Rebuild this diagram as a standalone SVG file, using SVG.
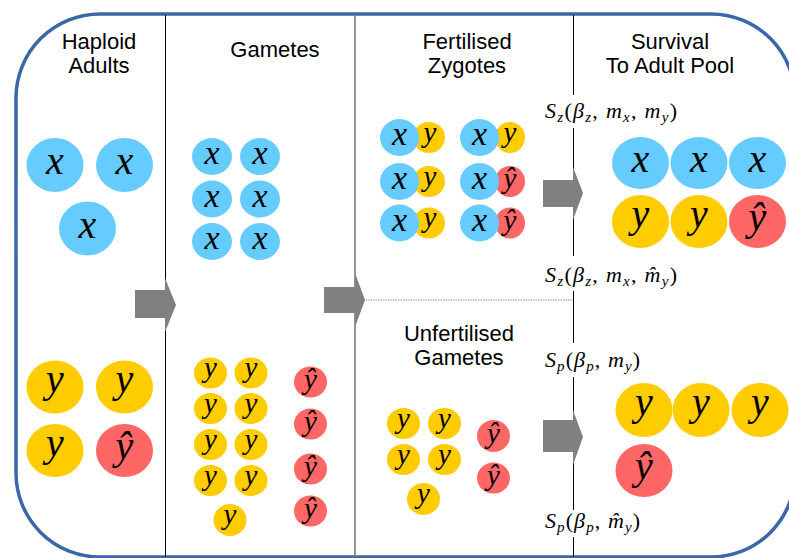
<svg xmlns="http://www.w3.org/2000/svg" width="789" height="558" viewBox="0 0 789 558">
<style>
.hd{font-family:"Liberation Sans",Arial,sans-serif;font-size:22px;fill:#000;text-anchor:middle}
.m{font-family:"Liberation Serif","Times New Roman",serif;font-style:italic;fill:#000;text-anchor:middle}
.L{font-size:40px}
.S{font-size:34px}
.T{font-size:29px}
.bx{fill:#66ccff}
.by{fill:#ffcc00}
.br{fill:#ff6666}
.lab{font-family:"Liberation Serif","Times New Roman",serif;font-size:22px;fill:#000}
.it{font-style:italic}
.sub{font-size:15px;font-style:italic}
.arr{fill:#808080}
</style>
<rect width="789" height="558" fill="#fff"/>
<rect x="16" y="14" width="779" height="543" rx="84" ry="84" fill="none" stroke="#3a67a8" stroke-width="3.5"/>

<g id="connectors">
<line x1="165.5" y1="15" x2="165.5" y2="557" stroke="#000" stroke-width="1"/>
<line x1="355" y1="15" x2="355" y2="557" stroke="#777" stroke-width="1.6"/>
<path d="M573.5 15V95M573.5 128V256M573.5 291V343M573.5 377V510M573.5 537V557" stroke="#000" stroke-width="1" fill="none"/>
<line x1="363" y1="300" x2="573" y2="300" stroke="#888" stroke-width="1" stroke-dasharray="1.5 1"/>
<polygon class="arr" points="135,290 165,290 165,278 176,305 165,332 165,318 135,318"/>
<polygon class="arr" points="324,287 355,287 355,273 365,300 355,327 355,313 324,313"/>
<polygon class="arr" points="543,180 573,180 573,167 583,193 573,220 573,207 543,207"/>
<polygon class="arr" points="543,420 573,420 573,410 583,437 573,465 573,452 543,452"/>
</g>

<g id="headers">
<text class="hd" x="99" y="49">Haploid</text>
<text class="hd" x="99" y="73">Adults</text>
<text class="hd" x="275" y="57">Gametes</text>
<text class="hd" x="467" y="49">Fertilised</text>
<text class="hd" x="467" y="73">Zygotes</text>
<text class="hd" x="670" y="49">Survival</text>
<text class="hd" x="670" y="73">To Adult Pool</text>
<text class="hd" x="459" y="341">Unfertilised</text>
<text class="hd" x="459" y="365">Gametes</text>
</g>

<g id="labels">
<text class="lab" x="545" y="117.5" textLength="132" lengthAdjust="spacing"><tspan class="it">S</tspan><tspan class="sub" dy="4">z</tspan><tspan dy="-4">(</tspan><tspan class="it">β</tspan><tspan class="sub" dy="4">z</tspan><tspan dy="-4">, </tspan><tspan class="it">m</tspan><tspan class="sub" dy="4">x</tspan><tspan dy="-4">, </tspan><tspan class="it">m</tspan><tspan class="sub" dy="4">y</tspan><tspan dy="-4">)</tspan></text>
<text class="lab" x="545" y="282" textLength="132" lengthAdjust="spacing"><tspan class="it">S</tspan><tspan class="sub" dy="4">z</tspan><tspan dy="-4">(</tspan><tspan class="it">β</tspan><tspan class="sub" dy="4">z</tspan><tspan dy="-4">, </tspan><tspan class="it">m</tspan><tspan class="sub" dy="4">x</tspan><tspan dy="-4">, </tspan><tspan class="it">m̂</tspan><tspan class="sub" dy="4">y</tspan><tspan dy="-4">)</tspan></text>
<text class="lab" x="545" y="367" textLength="95" lengthAdjust="spacing"><tspan class="it">S</tspan><tspan class="sub" dy="4">p</tspan><tspan dy="-4">(</tspan><tspan class="it">β</tspan><tspan class="sub" dy="4">p</tspan><tspan dy="-4">, </tspan><tspan class="it">m</tspan><tspan class="sub" dy="4">y</tspan><tspan dy="-4">)</tspan></text>
<text class="lab" x="545" y="528" textLength="95" lengthAdjust="spacing"><tspan class="it">S</tspan><tspan class="sub" dy="4">p</tspan><tspan dy="-4">(</tspan><tspan class="it">β</tspan><tspan class="sub" dy="4">p</tspan><tspan dy="-4">, </tspan><tspan class="it">m̂</tspan><tspan class="sub" dy="4">y</tspan><tspan dy="-4">)</tspan></text>
</g>

<g id="adults">
<g id="a1"><ellipse class="bx" cx="55" cy="165" rx="28.5" ry="27"/><text class="m L" x="55" y="174">x</text></g>
<g id="a2"><ellipse class="bx" cx="124.5" cy="165" rx="28.5" ry="27"/><text class="m L" x="124.5" y="174">x</text></g>
<g id="a3"><ellipse class="bx" cx="87.5" cy="228.5" rx="28.5" ry="27"/><text class="m L" x="87.5" y="237.5">x</text></g>
<g id="a4"><ellipse class="by" cx="55" cy="387" rx="28.5" ry="26.5"/><text class="m L" x="55" y="392">y</text></g>
<g id="a5"><ellipse class="by" cx="124.5" cy="387" rx="28.5" ry="26.5"/><text class="m L" x="124.5" y="392">y</text></g>
<g id="a6"><ellipse class="by" cx="55" cy="450.5" rx="28.5" ry="26.5"/><text class="m L" x="55" y="455.5">y</text></g>
<g id="a7"><ellipse class="br" cx="124.5" cy="450.5" rx="28.5" ry="26.5"/><text class="m L" x="124.5" y="459">ŷ</text></g>
</g>

<g id="gametes">
<g id="g1"><ellipse class="bx" cx="212" cy="156.5" rx="20" ry="18.5"/><text class="m S" x="212" y="164">x</text></g>
<g id="g2"><ellipse class="bx" cx="260" cy="156.5" rx="20" ry="18.5"/><text class="m S" x="260" y="164">x</text></g>
<g id="g3"><ellipse class="bx" cx="212" cy="199" rx="20" ry="18.5"/><text class="m S" x="212" y="206.5">x</text></g>
<g id="g4"><ellipse class="bx" cx="260" cy="199" rx="20" ry="18.5"/><text class="m S" x="260" y="206.5">x</text></g>
<g id="g5"><ellipse class="bx" cx="212" cy="241.5" rx="20" ry="18.5"/><text class="m S" x="212" y="249">x</text></g>
<g id="g6"><ellipse class="bx" cx="260" cy="241.5" rx="20" ry="18.5"/><text class="m S" x="260" y="249">x</text></g>
<g id="g7"><ellipse class="by" cx="210.5" cy="373" rx="16.5" ry="15.5"/><text class="m T" x="210.5" y="377">y</text></g>
<g id="g8"><ellipse class="by" cx="251" cy="373" rx="16.5" ry="15.5"/><text class="m T" x="251" y="377">y</text></g>
<g id="g9"><ellipse class="by" cx="210.5" cy="408.5" rx="16.5" ry="15.5"/><text class="m T" x="210.5" y="412.5">y</text></g>
<g id="g10"><ellipse class="by" cx="251" cy="408.5" rx="16.5" ry="15.5"/><text class="m T" x="251" y="412.5">y</text></g>
<g id="g11"><ellipse class="by" cx="210.5" cy="444.5" rx="16.5" ry="15.5"/><text class="m T" x="210.5" y="448.5">y</text></g>
<g id="g12"><ellipse class="by" cx="251" cy="444.5" rx="16.5" ry="15.5"/><text class="m T" x="251" y="448.5">y</text></g>
<g id="g13"><ellipse class="by" cx="210.5" cy="480.5" rx="16.5" ry="15.5"/><text class="m T" x="210.5" y="484.5">y</text></g>
<g id="g14"><ellipse class="by" cx="251" cy="480.5" rx="16.5" ry="15.5"/><text class="m T" x="251" y="484.5">y</text></g>
<g id="g15"><ellipse class="by" cx="230" cy="520" rx="16.5" ry="16"/><text class="m T" x="230" y="524">y</text></g>
<g id="g16"><ellipse class="br" cx="310.5" cy="382" rx="16.5" ry="15.5"/><text class="m T" x="310.5" y="388.5">ŷ</text></g>
<g id="g17"><ellipse class="br" cx="310.5" cy="424" rx="16.5" ry="15.5"/><text class="m T" x="310.5" y="430.5">ŷ</text></g>
<g id="g18"><ellipse class="br" cx="310.5" cy="469" rx="16.5" ry="15.5"/><text class="m T" x="310.5" y="475.5">ŷ</text></g>
<g id="g19"><ellipse class="br" cx="310.5" cy="511" rx="16.5" ry="15.5"/><text class="m T" x="310.5" y="517.5">ŷ</text></g>
</g>

<g id="zygotes">
<g id="z1"><ellipse class="by" cx="429" cy="137.5" rx="16" ry="15.5"/><ellipse class="bx" cx="399.5" cy="137.5" rx="19.5" ry="18.5"/><text class="m S" x="399.5" y="145">x</text><text class="m T" x="430" y="141.5">y</text></g>
<g id="z2"><ellipse class="by" cx="510" cy="137.5" rx="15" ry="15.5"/><ellipse class="bx" cx="479.5" cy="137.5" rx="19.5" ry="18.5"/><text class="m S" x="479.5" y="145">x</text><text class="m T" x="510" y="141.5">y</text></g>
<g id="z3"><ellipse class="by" cx="429" cy="181.5" rx="16" ry="15.5"/><ellipse class="bx" cx="399.5" cy="181.5" rx="19.5" ry="18.5"/><text class="m S" x="399.5" y="189">x</text><text class="m T" x="430" y="185.5">y</text></g>
<g id="z4"><ellipse class="br" cx="510" cy="181.5" rx="15" ry="15.5"/><ellipse class="bx" cx="479.5" cy="181.5" rx="19.5" ry="18.5"/><text class="m S" x="479.5" y="189">x</text><text class="m T" x="510" y="188">ŷ</text></g>
<g id="z5"><ellipse class="by" cx="429" cy="223" rx="16" ry="15.5"/><ellipse class="bx" cx="399.5" cy="223" rx="19.5" ry="18.5"/><text class="m S" x="399.5" y="230.5">x</text><text class="m T" x="430" y="227">y</text></g>
<g id="z6"><ellipse class="br" cx="510" cy="223" rx="15" ry="15.5"/><ellipse class="bx" cx="479.5" cy="223" rx="19.5" ry="18.5"/><text class="m S" x="479.5" y="230.5">x</text><text class="m T" x="510" y="229.5">ŷ</text></g>
</g>

<g id="unfertilised">
<g id="u1"><ellipse class="by" cx="403.5" cy="423.5" rx="16.5" ry="15.5"/><text class="m T" x="403.5" y="427.5">y</text></g>
<g id="u2"><ellipse class="by" cx="444.5" cy="423.5" rx="16.5" ry="15.5"/><text class="m T" x="444.5" y="427.5">y</text></g>
<g id="u3"><ellipse class="by" cx="403.5" cy="459.5" rx="16.5" ry="15.5"/><text class="m T" x="403.5" y="463.5">y</text></g>
<g id="u4"><ellipse class="by" cx="444.5" cy="459.5" rx="16.5" ry="15.5"/><text class="m T" x="444.5" y="463.5">y</text></g>
<g id="u5"><ellipse class="by" cx="423.5" cy="499" rx="16.5" ry="16"/><text class="m T" x="423.5" y="503">y</text></g>
<g id="u6"><ellipse class="br" cx="493.5" cy="436" rx="16.5" ry="16"/><text class="m T" x="493.5" y="442.5">ŷ</text></g>
<g id="u7"><ellipse class="br" cx="493.5" cy="478" rx="16.5" ry="15.5"/><text class="m T" x="493.5" y="484.5">ŷ</text></g>
</g>

<g id="survivors">
<g id="s1"><ellipse class="bx" cx="640.5" cy="163" rx="28.5" ry="26"/><text class="m L" x="640.5" y="172">x</text></g>
<g id="s2"><ellipse class="bx" cx="699" cy="163" rx="28.5" ry="26"/><text class="m L" x="699" y="172">x</text></g>
<g id="s3"><ellipse class="bx" cx="757.5" cy="163" rx="28.5" ry="26"/><text class="m L" x="757.5" y="172">x</text></g>
<g id="s4"><ellipse class="by" cx="640.5" cy="221.5" rx="28.5" ry="26.5"/><text class="m L" x="640.5" y="226.5">y</text></g>
<g id="s5"><ellipse class="by" cx="699" cy="221.5" rx="28.5" ry="26.5"/><text class="m L" x="699" y="226.5">y</text></g>
<g id="s6"><ellipse class="br" cx="757.5" cy="221.5" rx="28.5" ry="26.5"/><text class="m L" x="757.5" y="230">ŷ</text></g>
<g id="s7"><ellipse class="by" cx="644" cy="410" rx="28.5" ry="27"/><text class="m L" x="644" y="415">y</text></g>
<g id="s8"><ellipse class="by" cx="701" cy="410" rx="28.5" ry="27"/><text class="m L" x="701" y="415">y</text></g>
<g id="s9"><ellipse class="by" cx="760" cy="410" rx="28.5" ry="27"/><text class="m L" x="760" y="415">y</text></g>
<g id="s10"><ellipse class="br" cx="644" cy="470.5" rx="28.5" ry="26.5"/><text class="m L" x="644" y="479">ŷ</text></g>
</g>
</svg>
